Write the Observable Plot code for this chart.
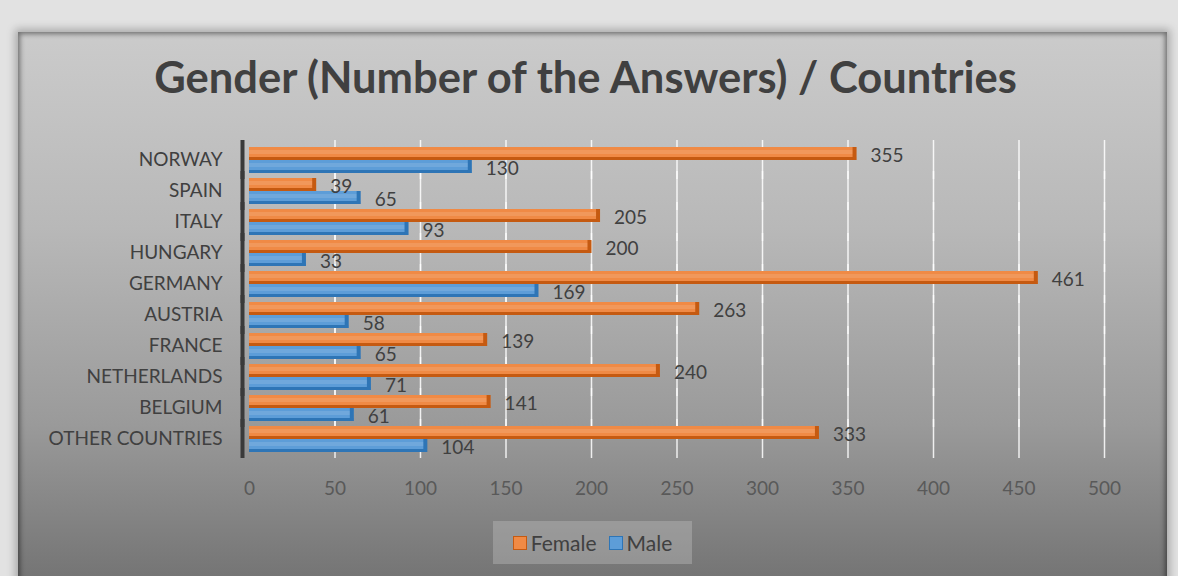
<!DOCTYPE html>
<html>
<head>
<meta charset="utf-8">
<script src="https://cdn.jsdelivr.net/npm/d3@7"></script>
<script src="https://cdn.jsdelivr.net/npm/@observablehq/plot@0.6"></script>
<style>
  html, body { margin: 0; padding: 0; }
  body { width: 1178px; height: 576px; background: #e2e2e2; position: relative; overflow: hidden; font-family: Lato, "Open Sans", sans-serif; }
  #panel {
    position: absolute; left: 18px; top: 32px; width: 1149px; height: 560px;
    background: linear-gradient(to bottom, #cbcbcb 0%, #b8b8b8 35%, #9a9a9a 70%, #717171 100%);
    box-shadow: 0 0 8px 3px rgba(0,0,0,0.25), inset 0 0 5px 2px rgba(0,0,0,0.45);
  }
  #title {
    position: absolute; left: 0; width: 1135px; top: 18px; text-align: center;
    font-family: Lato, sans-serif; font-weight: bold; font-size: 43.5px; color: #404040;
  }
  #chart { position: absolute; left: 0; top: 98px; }
  #legend {
    position: absolute; left: 475px; top: 489px; width: 199px; height: 43px;
    background: rgba(200,200,200,0.35);
    display: flex; align-items: center; justify-content: center; gap: 12px;
    font-family: Lato, sans-serif; font-size: 21px; color: #404040;
  }
  .item { display: flex; align-items: center; gap: 4px; }
  .sw { width: 12px; height: 12px; border: 1px solid; display: inline-block; }
</style>
</head>
<body>
<div id="panel">
  <div id="title">Gender (Number of the Answers) / Countries</div>
  <div id="chart"></div>
  <div id="legend"></div>
</div>
<script>
const countries = ["NORWAY","SPAIN","ITALY","HUNGARY","GERMANY","AUSTRIA","FRANCE","NETHERLANDS","BELGIUM","OTHER COUNTRIES"];
const female = [355, 39, 205, 200, 461, 263, 139, 240, 141, 333];
const male = [130, 65, 93, 33, 169, 58, 65, 71, 61, 104];
const xTicks = [0, 50, 100, 150, 200, 250, 300, 350, 400, 450, 500];
const genders = ["Female", "Male"];
const fillColors = ["#F08A45", "#5D9DD8"];
const edgeColors = ["#C55A11", "#2E75B6"];

const data = countries.flatMap((c, i) => [
  {country: c, gender: genders[0], value: female[i]},
  {country: c, gender: genders[1], value: male[i]}
]);
const fillOf = d => fillColors[genders.indexOf(d.gender)];
const edgeOf = d => edgeColors[genders.indexOf(d.gender)];

const chart = Plot.plot({
  width: 1149, height: 380,
  marginLeft: 231, marginRight: 63, marginTop: 13, marginBottom: 55,
  style: {background: "transparent", fontFamily: "Lato, 'Open Sans', sans-serif", color: "#404040"},
  x: {domain: [0, 500], axis: null},
  y: {domain: genders, padding: 0, axis: null},
  fy: {domain: countries, paddingInner: 0.14, paddingOuter: 0.08, axis: null},
  marks: [
    Plot.ruleX(xTicks.slice(1), {stroke: "white", strokeOpacity: 0.85, strokeWidth: 1.5, insetTop: -6, insetBottom: -6}),
    Plot.barX(data, {fy: "country", y: "gender", x: "value", fill: fillOf}),
    Plot.barX(data, {fy: "country", y: "gender", x: "value", fill: edgeOf, insetTop: 10}),
    Plot.barX(data, {fy: "country", y: "gender", x: "value", fill: "white", fillOpacity: 0.12, insetTop: 3, insetBottom: 6}),
    Plot.tickX(data, {fy: "country", y: "gender", x: "value", stroke: edgeOf, strokeWidth: 4, dx: -2}),
    Plot.text(data, {fy: "country", y: "gender", x: "value", text: d => String(d.value), textAnchor: "start", dx: 14, dy: 2, fontSize: 19, fill: "#404040"}),
    Plot.ruleX([0], {stroke: "#3a3a3a", strokeWidth: 4, dx: -7, insetTop: -6, insetBottom: -6}),
    Plot.axisFy({anchor: "left", tickSize: 0, tickPadding: 27, fontSize: 19, label: null, color: "#404040"}),
    Plot.axisX({ticks: xTicks, tickSize: 0, tickPadding: 29, fontSize: 19, label: null, color: "#595959"})
  ]
});
document.getElementById("chart").appendChild(chart);

const legend = document.getElementById("legend");
genders.forEach((g, i) => {
  const item = document.createElement("span");
  item.className = "item";
  const sw = document.createElement("span");
  sw.className = "sw";
  sw.style.background = fillColors[i];
  sw.style.borderColor = edgeColors[i];
  item.appendChild(sw);
  item.appendChild(document.createTextNode(g));
  legend.appendChild(item);
});
</script>
</body>
</html>
